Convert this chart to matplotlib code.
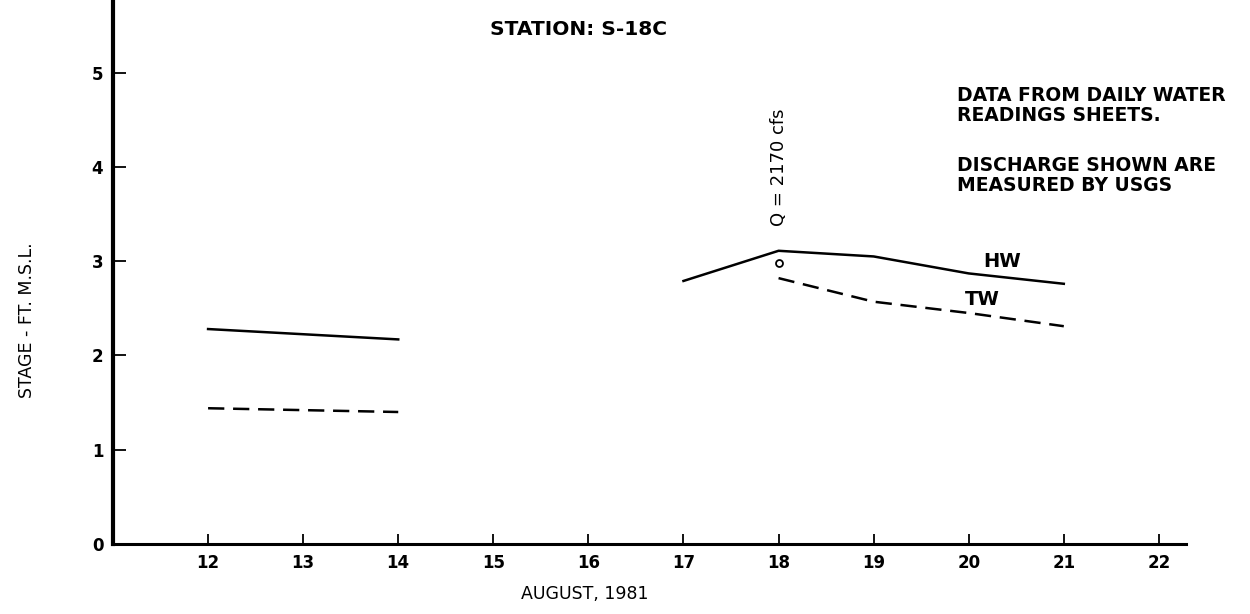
import matplotlib
matplotlib.use("Agg")
import matplotlib.pyplot as plt

plt.rcParams['font.family'] = ['DejaVu Sans']

# data (stage, ft M.S.L.)
days_a = [12, 14]
hw_a = [2.28, 2.17]
tw_a = [1.44, 1.40]

days_b = [17, 18, 19, 20, 21]
hw_b = [2.79, 3.11, 3.05, 2.87, 2.76]
days_tw = [18, 19, 20, 21]
tw_b = [2.82, 2.57, 2.45, 2.31]

q_day = 18
q_stage = 2.98
q_label = "Q = 2170 cfs"

xticks = list(range(12, 23))
yticks = [0, 1, 2, 3, 4, 5]

fig = plt.figure(figsize=(12.5, 6.14), dpi=100)
ax = fig.add_axes([0.0904, 0.114, 0.858, 0.886])

dash = (0, (6.5, 3.5))
ax.plot(days_a, hw_a, color='black', lw=1.8)
ax.plot(days_a, tw_a, color='black', lw=1.8, ls=dash)
ax.plot(days_b, hw_b, color='black', lw=1.8)
ax.plot(days_tw, tw_b, color='black', lw=1.8, ls=dash)
ax.plot([q_day], [q_stage], marker='o', mfc='white', mec='black', ms=5, mew=1.3, ls='none')

ax.set_xlim(11.0, 22.28)
ax.set_ylim(0, 5.77)
ax.set_xticks(xticks)
ax.set_yticks(yticks)
ax.tick_params(axis='x', direction='in', length=7, width=1.3, labelsize=12, pad=7)
ax.tick_params(axis='y', direction='in', length=9, width=1.3, labelsize=12, pad=7)
for lab in ax.get_xticklabels() + ax.get_yticklabels():
    lab.set_fontweight('bold')

for s in ['top', 'right']:
    ax.spines[s].set_visible(False)
ax.spines['left'].set_linewidth(3.0)
ax.spines['bottom'].set_linewidth(2.2)

ax.text(q_day, 3.37, q_label, rotation=90, ha='center', va='bottom', fontsize=13)
ax.text(20.35, 3.0, "HW", ha='center', va='center', fontsize=14, fontweight='bold')
ax.text(20.14, 2.59, "TW", ha='center', va='center', fontsize=14, fontweight='bold')
ax.text(19.88, 4.86, "DATA FROM DAILY WATER\nREADINGS SHEETS.", ha='left', va='top',
        fontsize=13.5, fontweight='bold', linespacing=1.1)
ax.text(19.88, 4.12, "DISCHARGE SHOWN ARE\nMEASURED BY USGS", ha='left', va='top',
        fontsize=13.5, fontweight='bold', linespacing=1.1)

fig.text(0.463, 0.952, "STATION: S-18C", ha='center', va='center', fontsize=14.5, fontweight='bold')
fig.text(0.468, 0.032, "AUGUST, 1981", ha='center', va='center', fontsize=12.5)
fig.text(0.022, 0.478, "STAGE - FT. M.S.L.", ha='center', va='center', rotation=90, fontsize=12.5)

fig.savefig("out.png", dpi=100)
